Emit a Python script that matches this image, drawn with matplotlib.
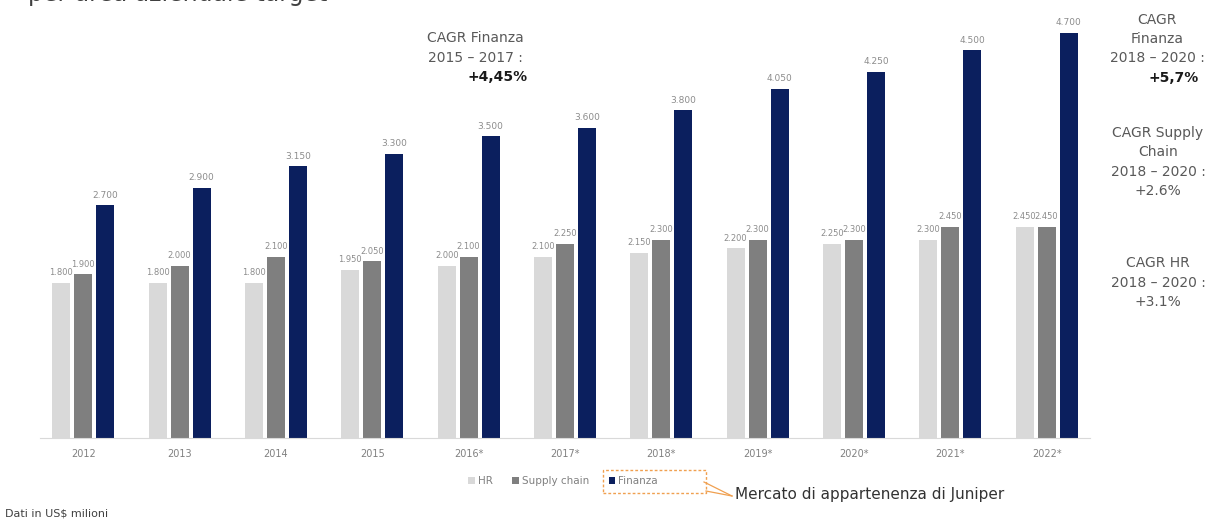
import matplotlib
matplotlib.use("Agg")
import matplotlib.pyplot as plt
import numpy as np
from matplotlib.patches import Rectangle
from matplotlib.lines import Line2D

years = ["2012", "2013", "2014", "2015", "2016*", "2017*", "2018*", "2019*", "2020*", "2021*", "2022*"]
hr = [1800, 1800, 1800, 1950, 2000, 2100, 2150, 2200, 2250, 2300, 2450]
supply = [1900, 2000, 2100, 2050, 2100, 2250, 2300, 2300, 2300, 2450, 2450]
finanza = [2700, 2900, 3150, 3300, 3500, 3600, 3800, 4050, 4250, 4500, 4700]
series_names = ["HR", "Supply chain", "Finanza"]

W, H = 1216, 522
fig = plt.figure(figsize=(W / 100, H / 100), dpi=100)
plt.rcParams['font.family'] = ['DejaVu Sans']

def fx(px):
    return px / W

def fy(py):
    return 1 - py / H

ax = fig.add_axes([fx(40), fy(438), fx(1090) - fx(40), fy(7) - fy(438)])
x = np.arange(len(years))
bw = 0.187
off = 0.228
c_hr, c_sc, c_fin = "#d9d9d9", "#7f7f7f", "#0b1f5e"
b1 = ax.bar(x - off, hr, bw, color=c_hr, label=series_names[0])
b2 = ax.bar(x, supply, bw, color=c_sc, label=series_names[1])
b3 = ax.bar(x + off, finanza, bw, color=c_fin, label=series_names[2])

def fmt(v):
    return f"{v:,}".replace(",", ".")

for bars, vals, fs in [(b1, hr, 6), (b2, supply, 6), (b3, finanza, 6.5)]:
    for r, v in zip(bars, vals):
        ax.annotate(fmt(v), (r.get_x() + r.get_width() / 2, v), xytext=(0, 4),
                    textcoords="offset points", ha="center", va="bottom",
                    fontsize=fs, color="#8c8c8c")

ax.set_xlim(-0.45, 10.45)
ax.set_ylim(0, 5000)
ax.set_xticks(x)
ax.set_xticklabels(years, fontsize=7, color="#808080")
ax.tick_params(axis="x", length=0, pad=8)
ax.set_yticks([])
for s in ["top", "right", "left"]:
    ax.spines[s].set_visible(False)
ax.spines["bottom"].set_color("#d9d9d9")

leg = fig.legend(handles=[b1, b2, b3], labels=series_names, loc="center",
                 bbox_to_anchor=(fx(563), fy(481)), ncol=3, frameon=False,
                 fontsize=7.5, handlelength=0.6, handleheight=0.6,
                 handletextpad=0.3, columnspacing=1.9, labelcolor="#808080")

orange = "#f0a050"
fig.patches.append(Rectangle((fx(603), fy(493)), fx(706) - fx(603), fy(470) - fy(493),
                             transform=fig.transFigure, fill=False, ec=orange,
                             ls=(0, (2, 1.5)), lw=1.0))
fig.lines.append(Line2D([fx(704), fx(732)], [fy(482), fy(496)], transform=fig.transFigure,
                        color=orange, lw=0.9))
fig.lines.append(Line2D([fx(706), fx(732)], [fy(491), fy(496)], transform=fig.transFigure,
                        color=orange, lw=0.9))
fig.text(fx(735), fy(495), "Mercato di appartenenza di Juniper", fontsize=11,
         color="#333333", va="center", ha="left")

fig.text(fx(5), fy(514), "Dati in US$ milioni", fontsize=8, color="#404040",
         va="center", ha="left")

fig.text(fx(28), fy(1.5), "per area aziendale target", fontsize=17, color="#404040",
         va="baseline", ha="left")

tc = "#595959"
def lines(xc, ys, texts, bold_last=True, bold_x=None):
    for i, (yy, t) in enumerate(zip(ys, texts)):
        last = (i == len(texts) - 1) and bold_last
        fig.text(fx(bold_x if (last and bold_x) else xc), fy(yy), t, fontsize=10,
                 color="#1a1a1a" if last else tc,
                 fontweight="bold" if last else "normal",
                 ha="center", va="center")

lines(475, [38, 58, 77], ["CAGR Finanza", "2015 – 2017 :", "+4,45%"], bold_x=498)
lines(1157, [20, 39, 58, 78], ["CAGR", "Finanza", "2018 – 2020 :", "+5,7%"], bold_x=1174)
lines(1158, [133, 152, 172, 191], ["CAGR Supply", "Chain", "2018 – 2020 :", "+2.6%"], bold_last=False)
lines(1158, [263, 283, 302], ["CAGR HR", "2018 – 2020 :", "+3.1%"], bold_last=False)

fig.savefig("out.png", dpi=100)
